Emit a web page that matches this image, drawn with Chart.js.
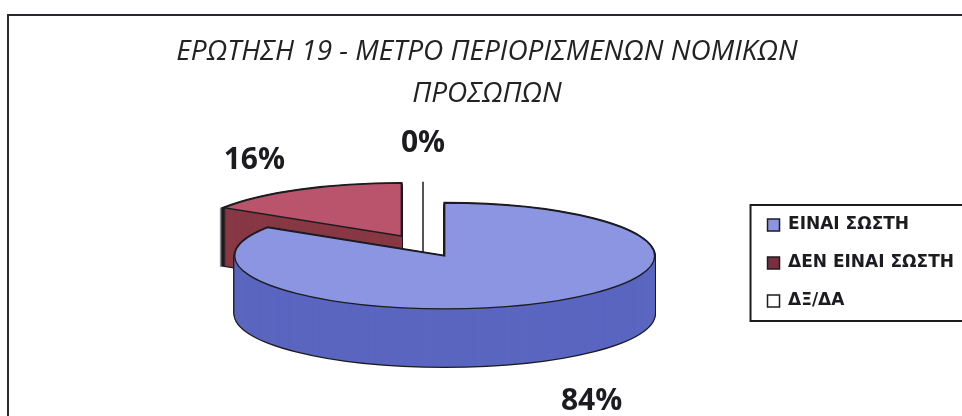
<!DOCTYPE html>
<html>
<head>
<meta charset="utf-8">
<script src="https://cdn.jsdelivr.net/npm/chart.js@4.4.1/dist/chart.umd.min.js"></script>
<style>
  html, body { margin: 0; padding: 0; background: #fff; overflow: hidden; }
  .wrap { position: relative; width: 962px; height: 416px; }
  .frame {
    position: absolute; left: 7px; top: 14px; width: 1000px; height: 500px;
    border-top: 2px solid #2a2a2e; border-left: 2px solid #2a2a2e;
  }
  #chart { position: absolute; left: 0; top: 0; }
</style>
</head>
<body>
<div class="wrap">
  <div class="frame"></div>
  <canvas id="chart" width="962" height="416"></canvas>
</div>
<script>
// data
const CATEGORIES = ['ΕΙΝΑΙ ΣΩΣΤΗ', 'ΔΕΝ ΕΙΝΑΙ ΣΩΣΤΗ', 'ΔΞ/ΔΑ'];
const VALUES = [84, 16, 0];
const TITLE_LINES = ['ΕΡΩΤΗΣΗ 19 - ΜΕΤΡΟ ΠΕΡΙΟΡΙΣΜΕΝΩΝ ΝΟΜΙΚΩΝ', 'ΠΡΟΣΩΠΩΝ'];

// styles
const TOP_COLORS = ['#8b95e1', '#b9546c', '#ffffff'];
const SIDE_COLORS = ['#5a66c0', '#883844', '#dddddd'];
const LEGEND_COLORS = ['#8b95e1', '#7a2e40', '#ffffff'];
const INK = '#1c1c20';

// 3d look
const PIE_X = 423;
const PIE_Y = 246;
const TILT = 0.252;
const DEPTH = 58;
const EXPLODE = 45;
const LABEL_RX = 350;
const LABEL_RY = 138;
const LABEL_DY = 35;

const total = VALUES.reduce((a, b) => a + b, 0);

function slicePath(ctx, cx, cy, r, a0, a1) {
    ctx.beginPath();
    ctx.moveTo(cx, cy);
    ctx.ellipse(cx, cy, r, r * TILT, 0, a0, a1);
    ctx.closePath();
}

function drawSlice(ctx, el, i) {
    const a0 = el.startAngle, a1 = el.endAngle;
    const mid = (a0 + a1) / 2;
    const r = el.outerRadius;
    const cx = PIE_X + Math.cos(mid) * EXPLODE;
    const cy = PIE_Y + Math.sin(mid) * EXPLODE * TILT;

    ctx.save();
    if (a1 - a0 < 1e-6) {
        // empty slice: just its edge lines
        ctx.strokeStyle = INK;
        ctx.lineWidth = 1.5;
        ctx.beginPath();
        ctx.moveTo(cx + Math.cos(a0) * r, cy + Math.sin(a0) * r * TILT);
        ctx.lineTo(cx, cy);
        ctx.lineTo(cx, cy + DEPTH);
        ctx.stroke();
        ctx.restore();
        return;
    }

    // outline halo of the extruded body
    ctx.strokeStyle = INK;
    ctx.lineWidth = 2.4;
    for (let z = DEPTH; z >= 0; z--) {
        slicePath(ctx, cx, cy + z, r, a0, a1);
        ctx.stroke();
    }
    // side walls
    ctx.fillStyle = SIDE_COLORS[i];
    for (let z = DEPTH; z >= 1; z--) {
        slicePath(ctx, cx, cy + z, r, a0, a1);
        ctx.fill();
    }
    // top face, drawn by the arc element itself
    ctx.save();
    ctx.translate(cx, cy);
    ctx.scale(1, TILT);
    ctx.translate(-el.x, -el.y);
    el.draw(ctx);
    ctx.restore();
    // top outline
    ctx.lineWidth = 1.4;
    slicePath(ctx, cx, cy, r, a0, a1);
    ctx.stroke();
    ctx.restore();
}

const pie3d = {
    id: 'pie3d',
    beforeDatasetsDraw(chart) {
        const ctx = chart.ctx;
        const meta = chart.getDatasetMeta(0);
        // back to front
        const order = meta.data.map((el, i) => i).sort((a, b) => {
            const ea = meta.data[a], eb = meta.data[b];
            return Math.sin((ea.startAngle + ea.endAngle) / 2) - Math.sin((eb.startAngle + eb.endAngle) / 2);
        });
        order.forEach(i => drawSlice(ctx, meta.data[i], i));
        return false;
    },
    afterDraw(chart) {
        const ctx = chart.ctx;
        const meta = chart.getDatasetMeta(0);
        // percentage labels
        ctx.save();
        ctx.fillStyle = INK;
        ctx.font = 'bold 30px "Open Sans"';
        ctx.textAlign = 'center';
        ctx.textBaseline = 'middle';
        meta.data.forEach((el, i) => {
            const mid = (el.startAngle + el.endAngle) / 2;
            const x = PIE_X + Math.cos(mid) * LABEL_RX;
            const y = PIE_Y + LABEL_DY + Math.sin(mid) * LABEL_RY;
            ctx.fillText(Math.round(VALUES[i] / total * 100) + '%', x, y);
        });
        ctx.restore();

        // legend frame
        const boxes = chart.legend.legendHitBoxes;
        if (boxes && boxes.length) {
            const first = boxes[0], last = boxes[boxes.length - 1];
            const left = Math.min(...boxes.map(b => b.left)) - 17;
            const top = first.top + first.height / 2 - 20;
            const bottom = last.top + last.height / 2 + 20;
            ctx.save();
            ctx.strokeStyle = INK;
            ctx.lineWidth = 2;
            ctx.strokeRect(left, top, 980 - left, bottom - top);
            ctx.restore();
        }
    }
};

new Chart(document.getElementById('chart'), {
    type: 'pie',
    data: {
        labels: CATEGORIES,
        datasets: [{
            data: VALUES,
            backgroundColor: TOP_COLORS,
            borderWidth: 0,
            radius: 210,
            clip: false
        }]
    },
    options: {
        responsive: false,
        animation: false,
        layout: { padding: { left: 10, right: -2, bottom: 15 } },
        plugins: {
            title: {
                display: true,
                text: TITLE_LINES,
                color: '#222',
                font: { family: 'Open Sans', size: 28, style: 'italic', weight: 'normal', lineHeight: 1.5 },
                padding: { top: 31, bottom: 10 }
            },
            legend: {
                position: 'right',
                fullSize: false,
                labels: {
                    color: INK,
                    boxWidth: 12,
                    boxHeight: 12,
                    padding: 21,
                    font: { family: 'DejaVu Sans', size: 17, weight: 'bold' },
                    generateLabels(chart) {
                        const items = Chart.overrides.pie.plugins.legend.labels.generateLabels(chart);
                        return items.map((item, i) => Object.assign(item, {
                            fillStyle: LEGEND_COLORS[i],
                            strokeStyle: INK,
                            lineWidth: 1.5,
                            hidden: false
                        }));
                    }
                }
            },
            tooltip: { enabled: false }
        }
    },
    plugins: [pie3d]
});
</script>
</body>
</html>
